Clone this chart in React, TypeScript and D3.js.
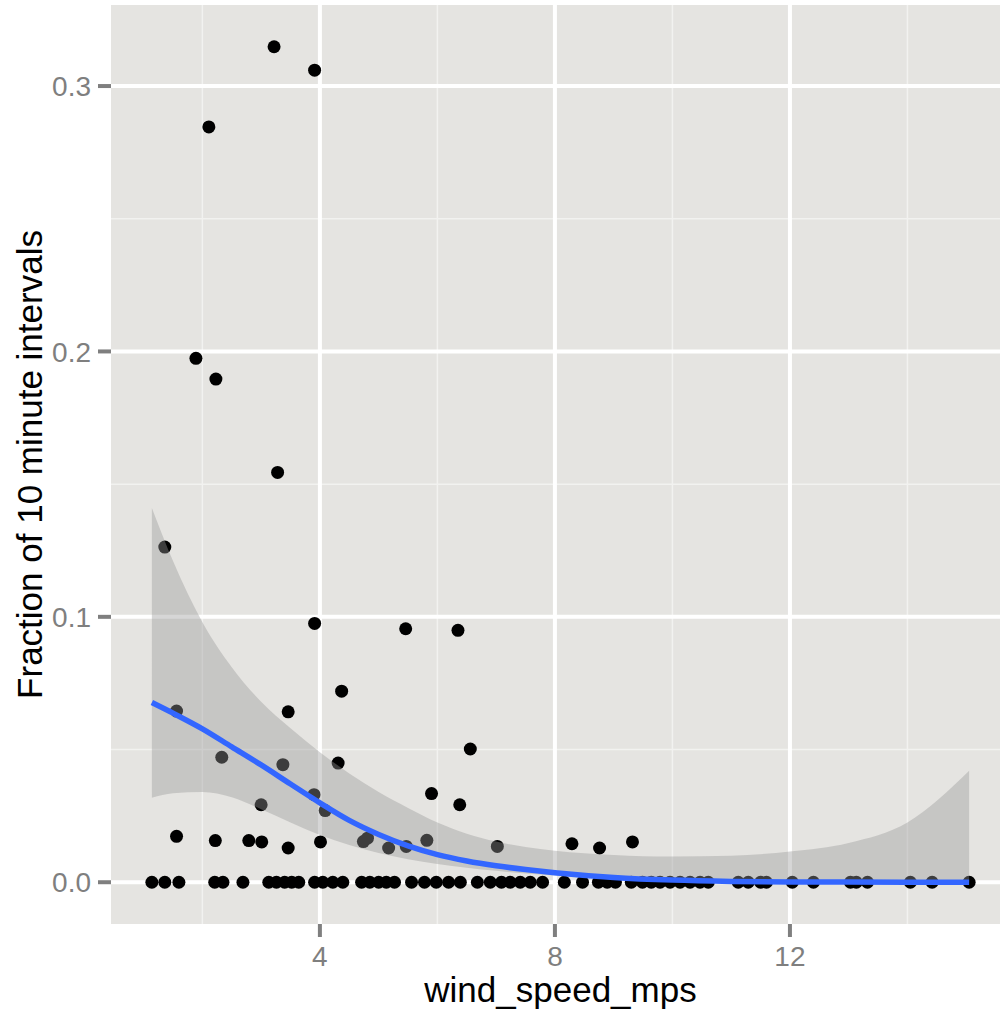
import React, { useRef, useEffect } from "react";
import * as d3 from "d3";

// wind speed (m/s) of each observation and the fraction of 10 minute intervals
const windSpeed = [
  3.22, 3.91, 2.11, 1.89, 2.23, 3.28, 1.36, 3.91, 5.46, 6.35,
  4.37, 3.46, 1.56, 6.56, 2.33, 3.37, 4.31, 5.9, 3.9, 3.0,
  6.38, 4.09, 1.56, 2.22, 2.79, 3.01, 3.46, 4.01, 4.74, 4.81,
  5.17, 5.47, 5.82, 7.02, 8.29, 8.76, 9.32,
  1.14, 1.36, 1.6, 2.21, 2.35, 2.69, 3.13, 3.26, 3.4, 3.52,
  3.64, 3.91, 4.05, 4.22, 4.39, 4.71, 4.85, 5.0, 5.13, 5.27,
  5.56, 5.78, 5.98, 6.19, 6.39, 6.68, 6.9, 7.09, 7.24, 7.41,
  7.58, 7.79, 8.16, 8.47, 8.74, 8.89, 9.03, 9.3, 9.49, 9.64,
  9.79, 9.96, 10.13, 10.3, 10.47, 10.61, 11.12, 11.29, 11.5, 11.6,
  12.04, 12.4, 13.03, 13.13, 13.32, 14.05, 14.42, 15.05,
];
const fraction = [
  0.3148, 0.306, 0.2846, 0.1974, 0.1896, 0.1544, 0.1263, 0.0975, 0.0955, 0.0949,
  0.072, 0.0642, 0.0645, 0.0502, 0.0471, 0.0443, 0.0449, 0.0334, 0.033, 0.0292,
  0.0292, 0.027, 0.0173, 0.0157, 0.0157, 0.0152, 0.0129, 0.0152, 0.0153, 0.0166,
  0.0129, 0.0135, 0.0158, 0.0135, 0.0145, 0.0129, 0.0152,
  0, 0, 0, 0, 0, 0, 0, 0, 0, 0,
  0, 0, 0, 0, 0, 0, 0, 0, 0, 0,
  0, 0, 0, 0, 0, 0, 0, 0, 0, 0,
  0, 0, 0, 0, 0, 0, 0, 0, 0, 0,
  0, 0, 0, 0, 0, 0, 0, 0, 0, 0,
  0, 0, 0, 0, 0, 0, 0, 0,
];

// smoother: fit and confidence band
const smoothX = [1.14, 1.5, 2, 2.5, 3, 3.5, 4, 4.5, 5, 5.5, 6, 6.5, 7, 7.5, 8, 9, 10, 11, 12, 13, 14, 15.05];
const smoothFit = [0.0677, 0.0637, 0.0578, 0.051, 0.0442, 0.037, 0.0299, 0.0233, 0.018, 0.0137, 0.0104, 0.008, 0.0062, 0.0048, 0.0036, 0.0018, 0.0008, 0.0003, 0.0001, 0.00005, 0.00002, 0];
const smoothHi = [0.141, 0.121, 0.098, 0.081, 0.068, 0.058, 0.049, 0.041, 0.034, 0.028, 0.0225, 0.0183, 0.0153, 0.0133, 0.0119, 0.0103, 0.0097, 0.01, 0.0116, 0.0148, 0.0225, 0.042];
const smoothLo = [0.0318, 0.0335, 0.034, 0.032, 0.0275, 0.0225, 0.0178, 0.014, 0.011, 0.0087, 0.0069, 0.0055, 0.0043, 0.0033, 0.0025, 0.0013, 0.0006, 0.0002, 0.00005, 0, 0, 0];

const xTicks = [4, 8, 12];
const xMinor = [2, 6, 10, 14];
const yTicks = [0, 0.1, 0.2, 0.3];
const yMinor = [0.05, 0.15, 0.25];

const App = () => {
  const svgRef = useRef<SVGSVGElement>(null);

  useEffect(() => {
    const width = 1000;
    const height = 1012;
    const panel = { left: 111, right: 1010, top: 5, bottom: 924 };
    const font = "'Liberation Sans', Arial, sans-serif";

    const svg = d3.select(svgRef.current);
    svg.selectAll("*").remove();
    svg.attr("width", width).attr("height", height);

    const points = windSpeed.map((w, i) => ({ x: w, y: fraction[i] }));
    const smooth = smoothX.map((x, i) => ({
      x,
      fit: smoothFit[i],
      lo: smoothLo[i],
      hi: smoothHi[i],
    }));

    // ggplot style 5% expansion
    const [xmin, xmax] = d3.extent(windSpeed) as [number, number];
    const [ymin, ymax] = d3.extent(fraction) as [number, number];
    const xpad = (xmax - xmin) * 0.05;
    const ypad = (ymax - ymin) * 0.05;

    const x = d3
      .scaleLinear()
      .domain([xmin - xpad, xmax + xpad])
      .range([panel.left, panel.right]);
    const y = d3
      .scaleLinear()
      .domain([ymin - ypad, ymax + ypad])
      .range([panel.bottom, panel.top]);

    // panel background
    svg
      .append("rect")
      .attr("x", panel.left)
      .attr("y", panel.top)
      .attr("width", panel.right - panel.left)
      .attr("height", panel.bottom - panel.top)
      .attr("fill", "#E5E4E1");

    // minor grid
    svg
      .selectAll(".xminor")
      .data(xMinor)
      .enter()
      .append("line")
      .attr("x1", (d) => x(d))
      .attr("x2", (d) => x(d))
      .attr("y1", panel.top)
      .attr("y2", panel.bottom)
      .attr("stroke", "#F2F2F0")
      .attr("stroke-width", 1.5);
    svg
      .selectAll(".yminor")
      .data(yMinor)
      .enter()
      .append("line")
      .attr("x1", panel.left)
      .attr("x2", panel.right)
      .attr("y1", (d) => y(d))
      .attr("y2", (d) => y(d))
      .attr("stroke", "#F2F2F0")
      .attr("stroke-width", 1.5);

    // major grid
    svg
      .selectAll(".xmajor")
      .data(xTicks)
      .enter()
      .append("line")
      .attr("x1", (d) => x(d))
      .attr("x2", (d) => x(d))
      .attr("y1", panel.top)
      .attr("y2", panel.bottom)
      .attr("stroke", "#FFFFFF")
      .attr("stroke-width", 4);
    svg
      .selectAll(".ymajor")
      .data(yTicks)
      .enter()
      .append("line")
      .attr("x1", panel.left)
      .attr("x2", panel.right)
      .attr("y1", (d) => y(d))
      .attr("y2", (d) => y(d))
      .attr("stroke", "#FFFFFF")
      .attr("stroke-width", 4);

    // points
    svg
      .selectAll(".pt")
      .data(points)
      .enter()
      .append("circle")
      .attr("cx", (d) => x(d.x))
      .attr("cy", (d) => y(d.y))
      .attr("r", 6.5)
      .attr("fill", "#000000");

    // confidence band
    const area = d3
      .area<{ x: number; lo: number; hi: number }>()
      .x((d) => x(d.x))
      .y0((d) => y(d.lo))
      .y1((d) => y(d.hi))
      .curve(d3.curveMonotoneX);
    svg
      .append("path")
      .datum(smooth)
      .attr("d", area)
      .attr("fill", "#999999")
      .attr("fill-opacity", 0.4);

    // fitted line
    const line = d3
      .line<{ x: number; fit: number }>()
      .x((d) => x(d.x))
      .y((d) => y(d.fit))
      .curve(d3.curveMonotoneX);
    svg
      .append("path")
      .datum(smooth)
      .attr("d", line)
      .attr("fill", "none")
      .attr("stroke", "#3366FF")
      .attr("stroke-width", 5.5);

    // axes ticks + labels
    const tickColor = "#7F7F7F";
    svg
      .selectAll(".xtick")
      .data(xTicks)
      .enter()
      .append("line")
      .attr("x1", (d) => x(d))
      .attr("x2", (d) => x(d))
      .attr("y1", panel.bottom)
      .attr("y2", panel.bottom + 13)
      .attr("stroke", tickColor)
      .attr("stroke-width", 4);
    svg
      .selectAll(".xlab")
      .data(xTicks)
      .enter()
      .append("text")
      .attr("x", (d) => x(d))
      .attr("y", 966)
      .attr("text-anchor", "middle")
      .attr("font-family", font)
      .attr("font-size", 28)
      .attr("fill", tickColor)
      .text((d) => d3.format("d")(d));

    svg
      .selectAll(".ytick")
      .data(yTicks)
      .enter()
      .append("line")
      .attr("x1", panel.left - 13)
      .attr("x2", panel.left)
      .attr("y1", (d) => y(d))
      .attr("y2", (d) => y(d))
      .attr("stroke", tickColor)
      .attr("stroke-width", 4);
    svg
      .selectAll(".ylab")
      .data(yTicks)
      .enter()
      .append("text")
      .attr("x", 91)
      .attr("y", (d) => y(d))
      .attr("dy", "0.36em")
      .attr("text-anchor", "end")
      .attr("font-family", font)
      .attr("font-size", 28)
      .attr("fill", tickColor)
      .text((d) => d3.format(".1f")(d));

    // axis titles
    svg
      .append("text")
      .attr("x", (panel.left + panel.right) / 2)
      .attr("y", 1002)
      .attr("text-anchor", "middle")
      .attr("font-family", font)
      .attr("font-size", 35)
      .attr("fill", "#000000")
      .text("wind_speed_mps");

    svg
      .append("text")
      .attr(
        "transform",
        `translate(42, ${(panel.top + panel.bottom) / 2}) rotate(-90)`
      )
      .attr("text-anchor", "middle")
      .attr("font-family", font)
      .attr("font-size", 35)
      .attr("fill", "#000000")
      .text("Fraction of 10 minute intervals");
  }, []);

  return (
    <div style={{ position: "absolute", left: 0, top: 0, background: "#fff" }}>
      <svg ref={svgRef} style={{ display: "block" }} />
    </div>
  );
};

export default App;
